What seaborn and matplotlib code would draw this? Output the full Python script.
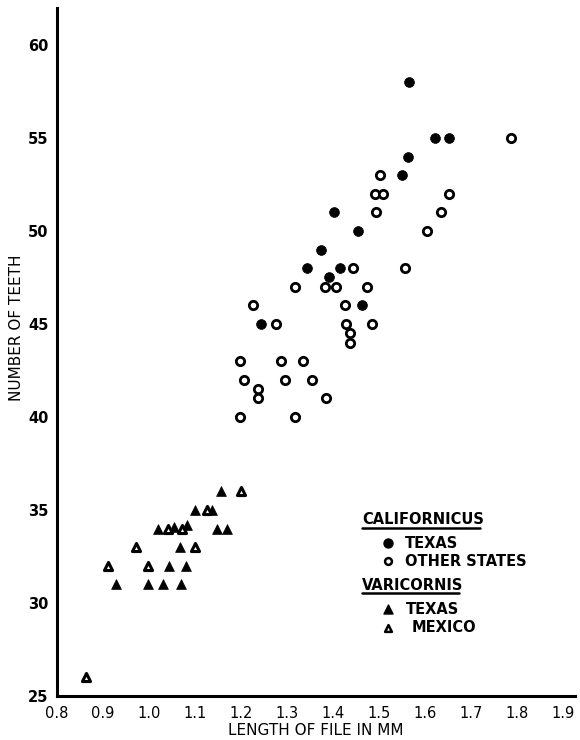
import matplotlib
matplotlib.use("Agg")
import matplotlib.pyplot as plt
from matplotlib.lines import Line2D
import seaborn as sns

# C. californicus, Texas specimens (filled circles)
cal_tx_len = [1.565, 1.562, 1.549, 1.622, 1.652, 1.403, 1.454, 1.374,
              1.343, 1.415, 1.392, 1.462, 1.243]
cal_tx_teeth = [58, 54, 53, 55, 55, 51, 50, 49, 48, 48, 47.5, 46, 45]

# C. californicus, other states (open circles)
cal_os_len = [1.786, 1.502, 1.491, 1.509, 1.653, 1.493, 1.634, 1.604,
              1.557, 1.444, 1.383, 1.407, 1.473, 1.318, 1.225, 1.425,
              1.277, 1.428, 1.484, 1.437, 1.436, 1.197, 1.286, 1.335,
              1.207, 1.296, 1.355, 1.236, 1.236, 1.385, 1.197, 1.318]
cal_os_teeth = [55, 53, 52, 52, 52, 51, 51, 50,
                48, 48, 47, 47, 47, 47, 46, 46,
                45, 45, 45, 44.5, 44, 43, 43, 43,
                42, 42, 42, 41.5, 41, 41, 40, 40]

# C. varicornis, Texas (filled triangles)
var_tx_len = [1.157, 1.101, 1.138, 1.083, 1.055, 1.020, 1.147, 1.169,
              1.067, 1.043, 1.080, 0.929, 0.998, 1.031, 1.070]
var_tx_teeth = [36, 35, 35, 34.2, 34.1, 34, 34, 34,
                33, 32, 32, 31, 31, 31, 31]

# C. varicornis, Mexico (open triangles)
var_mx_len = [1.199, 1.125, 1.041, 1.071, 0.971, 1.101, 0.911, 0.998, 0.862]
var_mx_teeth = [36, 35, 34, 34, 33, 33, 32, 32, 26]

x_ticks = [0.8, 0.9, 1.0, 1.1, 1.2, 1.3, 1.4, 1.5, 1.6, 1.7, 1.8, 1.9]
x_tick_labels = ["0.8", "0.9", "1.0", "1.1", "1.2", "1.3", "1.4", "1.5",
                 "1.6", "1.7", "1.8", "1.9"]
y_ticks = [25, 30, 35, 40, 45, 50, 55, 60]

sns.set_style("white", {"text.color": "black", "axes.labelcolor": "black",
                        "xtick.color": "black", "ytick.color": "black",
                        "axes.edgecolor": "black"})
plt.rcParams["font.family"] = ["DejaVu Sans"]

W, H = 580, 740
fig = plt.figure(figsize=(W / 100, H / 100), dpi=100)
L, R, T, B = 57, 575, 8, 696
ax = fig.add_axes([L / W, 1 - B / H, (R - L) / W, (B - T) / H])

sns.scatterplot(x=cal_tx_len, y=cal_tx_teeth, marker="o", s=50,
                color="black", edgecolor="black", linewidth=0.5, ax=ax)
sns.scatterplot(x=cal_os_len, y=cal_os_teeth, marker="o", s=36,
                color="white", edgecolor="black", linewidth=2.0, ax=ax)
sns.scatterplot(x=var_tx_len, y=var_tx_teeth, marker="^", s=50,
                color="black", edgecolor="black", linewidth=0.5, ax=ax)
sns.scatterplot(x=var_mx_len, y=var_mx_teeth, marker="^", s=34,
                color="white", edgecolor="black", linewidth=2.2, ax=ax)

ax.set_xlim(0.8, 0.8 + (R - L) / 460)
ax.set_ylim(25, 25 + (B - T) / 18.6)
ax.set_xticks(x_ticks)
ax.set_xticklabels(x_tick_labels)
ax.set_yticks(y_ticks)

for side in ("top", "right"):
    ax.spines[side].set_visible(False)
for side in ("left", "bottom"):
    ax.spines[side].set_linewidth(2.2)
    ax.spines[side].set_color("black")

ax.tick_params(axis="both", direction="in", length=3, width=1.2,
               colors="black", labelsize=10.5)
ax.tick_params(axis="x", pad=7)
ax.tick_params(axis="y", pad=6)
for lab in ax.get_yticklabels():
    lab.set_fontweight("bold")

ax.set_xlabel("LENGTH OF FILE IN MM", fontsize=11, color="black")
ax.xaxis.set_label_coords(0.5, (B - 723) / (B - T))
ax.set_ylabel("NUMBER OF TEETH", fontsize=11, color="black")
ax.yaxis.set_label_coords((24 - L) / (R - L), (B - 328) / (B - T))


def ax_xy(px, py):
    return (px - L) / (R - L), (B - py) / (B - T)


def heading(text, px, py, width):
    x, y = ax_xy(px, py)
    ax.text(x, y, text, transform=ax.transAxes, fontsize=10.5,
            fontweight="bold", va="center", ha="left", color="black")
    x0, yl = ax_xy(px, py + 8)
    x1, _ = ax_xy(px + width, py + 8)
    ax.add_line(Line2D([x0, x1], [yl, yl], transform=ax.transAxes,
                       color="black", linewidth=1.8, clip_on=False))


def entry(text, px, py, marker, filled, text_px):
    x, y = ax_xy(px, py)
    if filled:
        ax.scatter([x], [y], marker=marker, s=42, c="black",
                   transform=ax.transAxes, clip_on=False)
    else:
        ax.scatter([x], [y], marker=marker, s=24, c="white",
                   edgecolors="black", linewidths=1.8,
                   transform=ax.transAxes, clip_on=False)
    tx, _ = ax_xy(text_px, py)
    ax.text(tx, y, text, transform=ax.transAxes, fontsize=10.5,
            fontweight="bold", va="center", ha="left", color="black")


heading("CALIFORNICUS", 362, 520, 118)
entry("TEXAS", 388, 543, "o", True, 405)
entry("OTHER STATES", 388, 561, "o", False, 405)
heading("VARICORNIS", 362, 585, 97)
entry("TEXAS", 388, 609, "^", True, 406)
entry("MEXICO", 388, 628, "^", False, 412)

fig.savefig("out.png", dpi=100, facecolor="white")
